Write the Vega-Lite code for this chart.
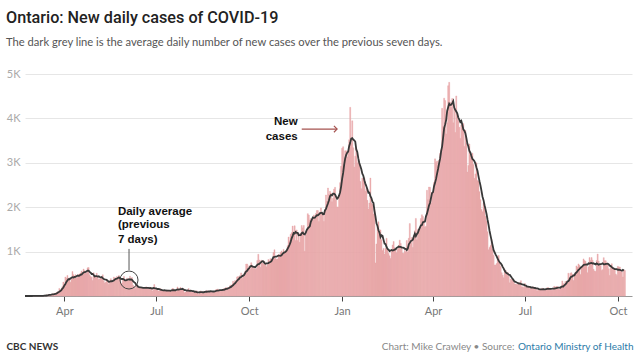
{
"$schema": "https://vega.github.io/schema/vega-lite/v6.json",
"width": 607, "height": 222,
"autosize": {"type": "none"},
"padding": {"left": 25, "top": 74, "right": 8, "bottom": 59},
"background": "#ffffff",
"config": {"view": {"stroke": null}, "axis": {"labelFont": "Lato", "titleFont": "Lato"}},
"title": {"text": "Ontario: New daily cases of COVID-19", "subtitle": "The dark grey line is the average daily number of new cases over the previous seven days.", "anchor": "start", "frame": "group", "dx": -19, "offset": 20, "font": "Roboto", "fontSize": 16.2, "fontWeight": 500, "color": "#222222", "subtitleFont": "Lato", "subtitleFontSize": 11.2, "subtitleColor": "#555555", "subtitlePadding": 11},
"data": {"values": [
{"date":"2020-02-22","cases":0},{"date":"2020-02-23","cases":0},{"date":"2020-02-24","cases":1},{"date":"2020-02-25","cases":0},{"date":"2020-02-26","cases":0},{"date":"2020-02-27","cases":1},{"date":"2020-02-28","cases":0},{"date":"2020-02-29","cases":1},
{"date":"2020-03-01","cases":3},{"date":"2020-03-02","cases":4},{"date":"2020-03-03","cases":1},{"date":"2020-03-04","cases":2},{"date":"2020-03-05","cases":4},{"date":"2020-03-06","cases":5},{"date":"2020-03-07","cases":3},{"date":"2020-03-08","cases":4},{"date":"2020-03-09","cases":4},{"date":"2020-03-10","cases":5},{"date":"2020-03-11","cases":5},{"date":"2020-03-12","cases":17},{"date":"2020-03-13","cases":20},{"date":"2020-03-14","cases":24},{"date":"2020-03-15","cases":28},{"date":"2020-03-16","cases":32},{"date":"2020-03-17","cases":38},{"date":"2020-03-18","cases":24},{"date":"2020-03-19","cases":42},{"date":"2020-03-20","cases":59},{"date":"2020-03-21","cases":48},{"date":"2020-03-22","cases":49},{"date":"2020-03-23","cases":78},{"date":"2020-03-24","cases":85},{"date":"2020-03-25","cases":100},{"date":"2020-03-26","cases":170},{"date":"2020-03-27","cases":135},{"date":"2020-03-28","cases":151},{"date":"2020-03-29","cases":211},{"date":"2020-03-30","cases":313},{"date":"2020-03-31","cases":260},
{"date":"2020-04-01","cases":426},{"date":"2020-04-02","cases":401},{"date":"2020-04-03","cases":462},{"date":"2020-04-04","cases":375},{"date":"2020-04-05","cases":408},{"date":"2020-04-06","cases":309},{"date":"2020-04-07","cases":379},{"date":"2020-04-08","cases":550},{"date":"2020-04-09","cases":478},{"date":"2020-04-10","cases":411},{"date":"2020-04-11","cases":478},{"date":"2020-04-12","cases":401},{"date":"2020-04-13","cases":421},{"date":"2020-04-14","cases":483},{"date":"2020-04-15","cases":494},{"date":"2020-04-16","cases":514},{"date":"2020-04-17","cases":564},{"date":"2020-04-18","cases":478},{"date":"2020-04-19","cases":606},{"date":"2020-04-20","cases":567},{"date":"2020-04-21","cases":551},{"date":"2020-04-22","cases":510},{"date":"2020-04-23","cases":634},{"date":"2020-04-24","cases":640},{"date":"2020-04-25","cases":476},{"date":"2020-04-26","cases":437},{"date":"2020-04-27","cases":424},{"date":"2020-04-28","cases":347},{"date":"2020-04-29","cases":525},{"date":"2020-04-30","cases":459},
{"date":"2020-05-01","cases":421},{"date":"2020-05-02","cases":511},{"date":"2020-05-03","cases":434},{"date":"2020-05-04","cases":370},{"date":"2020-05-05","cases":387},{"date":"2020-05-06","cases":412},{"date":"2020-05-07","cases":399},{"date":"2020-05-08","cases":477},{"date":"2020-05-09","cases":346},{"date":"2020-05-10","cases":294},{"date":"2020-05-11","cases":308},{"date":"2020-05-12","cases":361},{"date":"2020-05-13","cases":329},{"date":"2020-05-14","cases":258},{"date":"2020-05-15","cases":341},{"date":"2020-05-16","cases":391},{"date":"2020-05-17","cases":340},{"date":"2020-05-18","cases":304},{"date":"2020-05-19","cases":427},{"date":"2020-05-20","cases":390},{"date":"2020-05-21","cases":413},{"date":"2020-05-22","cases":441},{"date":"2020-05-23","cases":412},{"date":"2020-05-24","cases":460},{"date":"2020-05-25","cases":404},{"date":"2020-05-26","cases":287},{"date":"2020-05-27","cases":292},{"date":"2020-05-28","cases":383},{"date":"2020-05-29","cases":441},{"date":"2020-05-30","cases":344},{"date":"2020-05-31","cases":326},
{"date":"2020-06-01","cases":404},{"date":"2020-06-02","cases":338},{"date":"2020-06-03","cases":356},{"date":"2020-06-04","cases":446},{"date":"2020-06-05","cases":344},{"date":"2020-06-06","cases":415},{"date":"2020-06-07","cases":243},{"date":"2020-06-08","cases":215},{"date":"2020-06-09","cases":167},{"date":"2020-06-10","cases":251},{"date":"2020-06-11","cases":203},{"date":"2020-06-12","cases":182},{"date":"2020-06-13","cases":182},{"date":"2020-06-14","cases":184},{"date":"2020-06-15","cases":178},{"date":"2020-06-16","cases":190},{"date":"2020-06-17","cases":184},{"date":"2020-06-18","cases":173},{"date":"2020-06-19","cases":178},{"date":"2020-06-20","cases":206},{"date":"2020-06-21","cases":180},{"date":"2020-06-22","cases":161},{"date":"2020-06-23","cases":197},{"date":"2020-06-24","cases":163},{"date":"2020-06-25","cases":189},{"date":"2020-06-26","cases":111},{"date":"2020-06-27","cases":181},{"date":"2020-06-28","cases":257},{"date":"2020-06-29","cases":138},{"date":"2020-06-30","cases":157},
{"date":"2020-07-01","cases":153},{"date":"2020-07-02","cases":111},{"date":"2020-07-03","cases":121},{"date":"2020-07-04","cases":165},{"date":"2020-07-05","cases":154},{"date":"2020-07-06","cases":118},{"date":"2020-07-07","cases":112},{"date":"2020-07-08","cases":118},{"date":"2020-07-09","cases":118},{"date":"2020-07-10","cases":116},{"date":"2020-07-11","cases":129},{"date":"2020-07-12","cases":130},{"date":"2020-07-13","cases":116},{"date":"2020-07-14","cases":111},{"date":"2020-07-15","cases":102},{"date":"2020-07-16","cases":170},{"date":"2020-07-17","cases":164},{"date":"2020-07-18","cases":111},{"date":"2020-07-19","cases":135},{"date":"2020-07-20","cases":103},{"date":"2020-07-21","cases":203},{"date":"2020-07-22","cases":165},{"date":"2020-07-23","cases":135},{"date":"2020-07-24","cases":195},{"date":"2020-07-25","cases":138},{"date":"2020-07-26","cases":137},{"date":"2020-07-27","cases":164},{"date":"2020-07-28","cases":76},{"date":"2020-07-29","cases":89},{"date":"2020-07-30","cases":134},{"date":"2020-07-31","cases":104},
{"date":"2020-08-01","cases":169},{"date":"2020-08-02","cases":117},{"date":"2020-08-03","cases":129},{"date":"2020-08-04","cases":82},{"date":"2020-08-05","cases":86},{"date":"2020-08-06","cases":95},{"date":"2020-08-07","cases":88},{"date":"2020-08-08","cases":70},{"date":"2020-08-09","cases":120},{"date":"2020-08-10","cases":78},{"date":"2020-08-11","cases":33},{"date":"2020-08-12","cases":90},{"date":"2020-08-13","cases":115},{"date":"2020-08-14","cases":91},{"date":"2020-08-15","cases":79},{"date":"2020-08-16","cases":105},{"date":"2020-08-17","cases":63},{"date":"2020-08-18","cases":102},{"date":"2020-08-19","cases":125},{"date":"2020-08-20","cases":105},{"date":"2020-08-21","cases":111},{"date":"2020-08-22","cases":98},{"date":"2020-08-23","cases":107},{"date":"2020-08-24","cases":104},{"date":"2020-08-25","cases":84},{"date":"2020-08-26","cases":101},{"date":"2020-08-27","cases":106},{"date":"2020-08-28","cases":139},{"date":"2020-08-29","cases":148},{"date":"2020-08-30","cases":158},{"date":"2020-08-31","cases":114},
{"date":"2020-09-01","cases":112},{"date":"2020-09-02","cases":133},{"date":"2020-09-03","cases":132},{"date":"2020-09-04","cases":148},{"date":"2020-09-05","cases":169},{"date":"2020-09-06","cases":158},{"date":"2020-09-07","cases":190},{"date":"2020-09-08","cases":185},{"date":"2020-09-09","cases":149},{"date":"2020-09-10","cases":190},{"date":"2020-09-11","cases":230},{"date":"2020-09-12","cases":250},{"date":"2020-09-13","cases":240},{"date":"2020-09-14","cases":330},{"date":"2020-09-15","cases":290},{"date":"2020-09-16","cases":350},{"date":"2020-09-17","cases":320},{"date":"2020-09-18","cases":430},{"date":"2020-09-19","cases":440},{"date":"2020-09-20","cases":420},{"date":"2020-09-21","cases":460},{"date":"2020-09-22","cases":520},{"date":"2020-09-23","cases":400},{"date":"2020-09-24","cases":470},{"date":"2020-09-25","cases":500},{"date":"2020-09-26","cases":560},{"date":"2020-09-27","cases":720},{"date":"2020-09-28","cases":720},{"date":"2020-09-29","cases":600},{"date":"2020-09-30","cases":680},
{"date":"2020-10-01","cases":600},{"date":"2020-10-02","cases":750},{"date":"2020-10-03","cases":690},{"date":"2020-10-04","cases":620},{"date":"2020-10-05","cases":650},{"date":"2020-10-06","cases":600},{"date":"2020-10-07","cases":620},{"date":"2020-10-08","cases":800},{"date":"2020-10-09","cases":939},{"date":"2020-10-10","cases":809},{"date":"2020-10-11","cases":649},{"date":"2020-10-12","cases":807},{"date":"2020-10-13","cases":746},{"date":"2020-10-14","cases":721},{"date":"2020-10-15","cases":783},{"date":"2020-10-16","cases":712},{"date":"2020-10-17","cases":658},{"date":"2020-10-18","cases":704},{"date":"2020-10-19","cases":821},{"date":"2020-10-20","cases":790},{"date":"2020-10-21","cases":841},{"date":"2020-10-22","cases":826},{"date":"2020-10-23","cases":841},{"date":"2020-10-24","cases":978},{"date":"2020-10-25","cases":1042},{"date":"2020-10-26","cases":851},{"date":"2020-10-27","cases":827},{"date":"2020-10-28","cases":834},{"date":"2020-10-29","cases":934},{"date":"2020-10-30","cases":896},{"date":"2020-10-31","cases":977},
{"date":"2020-11-01","cases":1015},{"date":"2020-11-02","cases":948},{"date":"2020-11-03","cases":1050},{"date":"2020-11-04","cases":987},{"date":"2020-11-05","cases":998},{"date":"2020-11-06","cases":1003},{"date":"2020-11-07","cases":1132},{"date":"2020-11-08","cases":1328},{"date":"2020-11-09","cases":1242},{"date":"2020-11-10","cases":1388},{"date":"2020-11-11","cases":1426},{"date":"2020-11-12","cases":1575},{"date":"2020-11-13","cases":1396},{"date":"2020-11-14","cases":1581},{"date":"2020-11-15","cases":1248},{"date":"2020-11-16","cases":1487},{"date":"2020-11-17","cases":1249},{"date":"2020-11-18","cases":1417},{"date":"2020-11-19","cases":1210},{"date":"2020-11-20","cases":1418},{"date":"2020-11-21","cases":1588},{"date":"2020-11-22","cases":1534},{"date":"2020-11-23","cases":1589},{"date":"2020-11-24","cases":1009},{"date":"2020-11-25","cases":1373},{"date":"2020-11-26","cases":1478},{"date":"2020-11-27","cases":1855},{"date":"2020-11-28","cases":1822},{"date":"2020-11-29","cases":1708},{"date":"2020-11-30","cases":1746},
{"date":"2020-12-01","cases":1707},{"date":"2020-12-02","cases":1723},{"date":"2020-12-03","cases":1824},{"date":"2020-12-04","cases":1780},{"date":"2020-12-05","cases":1859},{"date":"2020-12-06","cases":1924},{"date":"2020-12-07","cases":1925},{"date":"2020-12-08","cases":1676},{"date":"2020-12-09","cases":1890},{"date":"2020-12-10","cases":1983},{"date":"2020-12-11","cases":1848},{"date":"2020-12-12","cases":1873},{"date":"2020-12-13","cases":1677},{"date":"2020-12-14","cases":1940},{"date":"2020-12-15","cases":2275},{"date":"2020-12-16","cases":2139},{"date":"2020-12-17","cases":2432},{"date":"2020-12-18","cases":2290},{"date":"2020-12-19","cases":2357},{"date":"2020-12-20","cases":2316},{"date":"2020-12-21","cases":2123},{"date":"2020-12-22","cases":2202},{"date":"2020-12-23","cases":2408},{"date":"2020-12-24","cases":2447},{"date":"2020-12-25","cases":2159},{"date":"2020-12-26","cases":2005},{"date":"2020-12-27","cases":2005},{"date":"2020-12-28","cases":2275},{"date":"2020-12-29","cases":2553},{"date":"2020-12-30","cases":2923},{"date":"2020-12-31","cases":3328},
{"date":"2021-01-01","cases":3363},{"date":"2021-01-02","cases":2964},{"date":"2021-01-03","cases":3270},{"date":"2021-01-04","cases":3270},{"date":"2021-01-05","cases":3128},{"date":"2021-01-06","cases":3266},{"date":"2021-01-07","cases":3519},{"date":"2021-01-08","cases":4249},{"date":"2021-01-09","cases":3443},{"date":"2021-01-10","cases":3945},{"date":"2021-01-11","cases":3338},{"date":"2021-01-12","cases":2903},{"date":"2021-01-13","cases":3149},{"date":"2021-01-14","cases":3326},{"date":"2021-01-15","cases":2998},{"date":"2021-01-16","cases":3056},{"date":"2021-01-17","cases":2964},{"date":"2021-01-18","cases":2578},{"date":"2021-01-19","cases":2417},{"date":"2021-01-20","cases":2655},{"date":"2021-01-21","cases":2632},{"date":"2021-01-22","cases":2662},{"date":"2021-01-23","cases":2359},{"date":"2021-01-24","cases":2417},{"date":"2021-01-25","cases":2154},{"date":"2021-01-26","cases":1958},{"date":"2021-01-27","cases":2093},{"date":"2021-01-28","cases":2655},{"date":"2021-01-29","cases":2093},{"date":"2021-01-30","cases":2063},{"date":"2021-01-31","cases":1848},
{"date":"2021-02-01","cases":1969},{"date":"2021-02-02","cases":745},{"date":"2021-02-03","cases":1172},{"date":"2021-02-04","cases":1563},{"date":"2021-02-05","cases":1670},{"date":"2021-02-06","cases":1388},{"date":"2021-02-07","cases":1489},{"date":"2021-02-08","cases":1265},{"date":"2021-02-09","cases":1022},{"date":"2021-02-10","cases":1072},{"date":"2021-02-11","cases":945},{"date":"2021-02-12","cases":1076},{"date":"2021-02-13","cases":1300},{"date":"2021-02-14","cases":1041},{"date":"2021-02-15","cases":964},{"date":"2021-02-16","cases":904},{"date":"2021-02-17","cases":847},{"date":"2021-02-18","cases":1038},{"date":"2021-02-19","cases":1150},{"date":"2021-02-20","cases":1228},{"date":"2021-02-21","cases":1087},{"date":"2021-02-22","cases":1058},{"date":"2021-02-23","cases":975},{"date":"2021-02-24","cases":1054},{"date":"2021-02-25","cases":1138},{"date":"2021-02-26","cases":1258},{"date":"2021-02-27","cases":1185},{"date":"2021-02-28","cases":1062},
{"date":"2021-03-01","cases":966},{"date":"2021-03-02","cases":958},{"date":"2021-03-03","cases":1023},{"date":"2021-03-04","cases":994},{"date":"2021-03-05","cases":1250},{"date":"2021-03-06","cases":990},{"date":"2021-03-07","cases":1299},{"date":"2021-03-08","cases":1631},{"date":"2021-03-09","cases":1185},{"date":"2021-03-10","cases":1316},{"date":"2021-03-11","cases":1092},{"date":"2021-03-12","cases":1371},{"date":"2021-03-13","cases":1468},{"date":"2021-03-14","cases":1747},{"date":"2021-03-15","cases":1268},{"date":"2021-03-16","cases":1500},{"date":"2021-03-17","cases":1508},{"date":"2021-03-18","cases":1553},{"date":"2021-03-19","cases":1745},{"date":"2021-03-20","cases":1829},{"date":"2021-03-21","cases":1791},{"date":"2021-03-22","cases":1699},{"date":"2021-03-23","cases":1546},{"date":"2021-03-24","cases":1571},{"date":"2021-03-25","cases":2380},{"date":"2021-03-26","cases":2169},{"date":"2021-03-27","cases":2453},{"date":"2021-03-28","cases":2448},{"date":"2021-03-29","cases":2094},{"date":"2021-03-30","cases":2336},{"date":"2021-03-31","cases":2333},
{"date":"2021-04-01","cases":2557},{"date":"2021-04-02","cases":3089},{"date":"2021-04-03","cases":3009},{"date":"2021-04-04","cases":3041},{"date":"2021-04-05","cases":2938},{"date":"2021-04-06","cases":3065},{"date":"2021-04-07","cases":3215},{"date":"2021-04-08","cases":3295},{"date":"2021-04-09","cases":4227},{"date":"2021-04-10","cases":3813},{"date":"2021-04-11","cases":4456},{"date":"2021-04-12","cases":4401},{"date":"2021-04-13","cases":3650},{"date":"2021-04-14","cases":3900},{"date":"2021-04-15","cases":4736},{"date":"2021-04-16","cases":4812},{"date":"2021-04-17","cases":4362},{"date":"2021-04-18","cases":4250},{"date":"2021-04-19","cases":4447},{"date":"2021-04-20","cases":3900},{"date":"2021-04-21","cases":4212},{"date":"2021-04-22","cases":3682},{"date":"2021-04-23","cases":4505},{"date":"2021-04-24","cases":4094},{"date":"2021-04-25","cases":3947},{"date":"2021-04-26","cases":3800},{"date":"2021-04-27","cases":3550},{"date":"2021-04-28","cases":3850},{"date":"2021-04-29","cases":3871},{"date":"2021-04-30","cases":3887},
{"date":"2021-05-01","cases":3369},{"date":"2021-05-02","cases":3732},{"date":"2021-05-03","cases":3436},{"date":"2021-05-04","cases":2791},{"date":"2021-05-05","cases":2941},{"date":"2021-05-06","cases":3424},{"date":"2021-05-07","cases":3166},{"date":"2021-05-08","cases":3100},{"date":"2021-05-09","cases":3216},{"date":"2021-05-10","cases":2960},{"date":"2021-05-11","cases":2650},{"date":"2021-05-12","cases":2750},{"date":"2021-05-13","cases":3000},{"date":"2021-05-14","cases":2600},{"date":"2021-05-15","cases":2584},{"date":"2021-05-16","cases":2350},{"date":"2021-05-17","cases":2170},{"date":"2021-05-18","cases":1950},{"date":"2021-05-19","cases":1900},{"date":"2021-05-20","cases":2100},{"date":"2021-05-21","cases":2050},{"date":"2021-05-22","cases":1794},{"date":"2021-05-23","cases":1691},{"date":"2021-05-24","cases":1446},{"date":"2021-05-25","cases":1039},{"date":"2021-05-26","cases":1095},{"date":"2021-05-27","cases":1135},{"date":"2021-05-28","cases":1273},{"date":"2021-05-29","cases":1057},{"date":"2021-05-30","cases":916},{"date":"2021-05-31","cases":699},
{"date":"2021-06-01","cases":699},{"date":"2021-06-02","cases":733},{"date":"2021-06-03","cases":870},{"date":"2021-06-04","cases":914},{"date":"2021-06-05","cases":744},{"date":"2021-06-06","cases":663},{"date":"2021-06-07","cases":525},{"date":"2021-06-08","cases":469},{"date":"2021-06-09","cases":411},{"date":"2021-06-10","cases":590},{"date":"2021-06-11","cases":574},{"date":"2021-06-12","cases":502},{"date":"2021-06-13","cases":530},{"date":"2021-06-14","cases":447},{"date":"2021-06-15","cases":296},{"date":"2021-06-16","cases":384},{"date":"2021-06-17","cases":370},{"date":"2021-06-18","cases":345},{"date":"2021-06-19","cases":318},{"date":"2021-06-20","cases":270},{"date":"2021-06-21","cases":270},{"date":"2021-06-22","cases":255},{"date":"2021-06-23","cases":296},{"date":"2021-06-24","cases":296},{"date":"2021-06-25","cases":256},{"date":"2021-06-26","cases":346},{"date":"2021-06-27","cases":200},{"date":"2021-06-28","cases":210},{"date":"2021-06-29","cases":184},{"date":"2021-06-30","cases":284},
{"date":"2021-07-01","cases":200},{"date":"2021-07-02","cases":209},{"date":"2021-07-03","cases":209},{"date":"2021-07-04","cases":194},{"date":"2021-07-05","cases":170},{"date":"2021-07-06","cases":164},{"date":"2021-07-07","cases":194},{"date":"2021-07-08","cases":210},{"date":"2021-07-09","cases":179},{"date":"2021-07-10","cases":179},{"date":"2021-07-11","cases":166},{"date":"2021-07-12","cases":114},{"date":"2021-07-13","cases":146},{"date":"2021-07-14","cases":153},{"date":"2021-07-15","cases":143},{"date":"2021-07-16","cases":159},{"date":"2021-07-17","cases":176},{"date":"2021-07-18","cases":166},{"date":"2021-07-19","cases":130},{"date":"2021-07-20","cases":135},{"date":"2021-07-21","cases":151},{"date":"2021-07-22","cases":185},{"date":"2021-07-23","cases":192},{"date":"2021-07-24","cases":170},{"date":"2021-07-25","cases":170},{"date":"2021-07-26","cases":129},{"date":"2021-07-27","cases":127},{"date":"2021-07-28","cases":172},{"date":"2021-07-29","cases":218},{"date":"2021-07-30","cases":187},{"date":"2021-07-31","cases":213},
{"date":"2021-08-01","cases":213},{"date":"2021-08-02","cases":164},{"date":"2021-08-03","cases":143},{"date":"2021-08-04","cases":167},{"date":"2021-08-05","cases":213},{"date":"2021-08-06","cases":340},{"date":"2021-08-07","cases":278},{"date":"2021-08-08","cases":195},{"date":"2021-08-09","cases":325},{"date":"2021-08-10","cases":321},{"date":"2021-08-11","cases":324},{"date":"2021-08-12","cases":513},{"date":"2021-08-13","cases":378},{"date":"2021-08-14","cases":513},{"date":"2021-08-15","cases":525},{"date":"2021-08-16","cases":485},{"date":"2021-08-17","cases":348},{"date":"2021-08-18","cases":485},{"date":"2021-08-19","cases":531},{"date":"2021-08-20","cases":678},{"date":"2021-08-21","cases":650},{"date":"2021-08-22","cases":722},{"date":"2021-08-23","cases":694},{"date":"2021-08-24","cases":486},{"date":"2021-08-25","cases":660},{"date":"2021-08-26","cases":678},{"date":"2021-08-27","cases":835},{"date":"2021-08-28","cases":800},{"date":"2021-08-29","cases":780},{"date":"2021-08-30","cases":694},{"date":"2021-08-31","cases":525},
{"date":"2021-09-01","cases":656},{"date":"2021-09-02","cases":865},{"date":"2021-09-03","cases":800},{"date":"2021-09-04","cases":865},{"date":"2021-09-05","cases":807},{"date":"2021-09-06","cases":601},{"date":"2021-09-07","cases":564},{"date":"2021-09-08","cases":554},{"date":"2021-09-09","cases":798},{"date":"2021-09-10","cases":944},{"date":"2021-09-11","cases":787},{"date":"2021-09-12","cases":691},{"date":"2021-09-13","cases":689},{"date":"2021-09-14","cases":577},{"date":"2021-09-15","cases":593},{"date":"2021-09-16","cases":864},{"date":"2021-09-17","cases":795},{"date":"2021-09-18","cases":795},{"date":"2021-09-19","cases":749},{"date":"2021-09-20","cases":692},{"date":"2021-09-21","cases":612},{"date":"2021-09-22","cases":463},{"date":"2021-09-23","cases":677},{"date":"2021-09-24","cases":727},{"date":"2021-09-25","cases":640},{"date":"2021-09-26","cases":612},{"date":"2021-09-27","cases":613},{"date":"2021-09-28","cases":495},{"date":"2021-09-29","cases":463},{"date":"2021-09-30","cases":668},
{"date":"2021-10-01","cases":654},{"date":"2021-10-02","cases":653},{"date":"2021-10-03","cases":580},{"date":"2021-10-04","cases":540},{"date":"2021-10-05","cases":429},{"date":"2021-10-06","cases":587},{"date":"2021-10-07","cases":573}
]},
"layer": [
{
"mark": {"type": "bar", "color": "#e8a7a8", "stroke": "#e8a7a8", "strokeWidth": 0.4, "binSpacing": 0},
"encoding": {
"x": {"field": "date", "type": "temporal", "timeUnit": "utcyearmonthdate",
"scale": {"domain": [{"year": 2020, "month": 2, "date": 22, "utc": true}, {"year": 2021, "month": 10, "date": 15, "utc": true}]},
"axis": {"values": [{"year": 2020, "month": 4, "date": 1, "utc": true}, {"year": 2020, "month": 7, "date": 1, "utc": true}, {"year": 2020, "month": 10, "date": 1, "utc": true}, {"year": 2021, "month": 1, "date": 1, "utc": true}, {"year": 2021, "month": 4, "date": 1, "utc": true}, {"year": 2021, "month": 7, "date": 1, "utc": true}, {"year": 2021, "month": 10, "date": 1, "utc": true}],
"labelExpr": "utcFormat(datum.value, '%b')", "grid": false, "domainColor": "#999999", "tickColor": "#444444", "tickSize": 5, "labelColor": "#777777", "labelFontSize": 11, "labelPadding": 4,
"title": "CBC NEWS", "titleX": -19, "titleY": 53, "titleAlign": "left", "titleAnchor": null, "titleBaseline": "alphabetic", "titleColor": "#333333", "titleFontSize": 10, "titleFontWeight": "bold"}},
"y": {"field": "cases", "type": "quantitative", "scale": {"domain": [0, 5000]},
"axis": {"values": [1000, 2000, 3000, 4000, 5000], "labelExpr": "datum.value / 1000 + 'K'", "grid": true, "gridColor": "#e6e6e6", "domain": false, "ticks": false, "labelPadding": 5, "labelColor": "#aaaaaa", "labelFontSize": 11,
"title": "Chart: Mike Crawley • Source:", "titleAngle": 0, "titleX": 489, "titleY": 275, "titleAlign": "right", "titleAnchor": null, "titleBaseline": "alphabetic", "titleColor": "#888888", "titleFontSize": 10, "titleFontWeight": "normal"}}
}
},
{
"transform": [{"window": [{"op": "mean", "field": "cases", "as": "avg"}], "frame": [-6, 0], "sort": [{"field": "date", "order": "ascending"}]}],
"mark": {"type": "line", "color": "#383838", "strokeWidth": 1.8},
"encoding": {
"x": {"field": "date", "type": "temporal", "timeUnit": "utcyearmonthdate"},
"y": {"field": "avg", "type": "quantitative",
"axis": {"orient": "right", "labels": false, "ticks": false, "domain": false, "grid": false,
"title": "Ontario Ministry of Health", "titleAngle": 0, "titleX": 1, "titleY": 275, "titleAlign": "right", "titleAnchor": null, "titleBaseline": "alphabetic", "titleColor": "#2b7ba8", "titleFontSize": 10, "titleFontWeight": "normal"}}
}
},
{
"data": {"values": [{"date": "2020-11-22", "date2": "2020-12-27", "value": 3760}]},
"mark": {"type": "rule", "color": "#a5524f", "strokeWidth": 1.2},
"encoding": {
"x": {"field": "date", "type": "temporal", "timeUnit": "utcyearmonthdate"},
"x2": {"field": "date2", "timeUnit": "utcyearmonthdate"},
"y": {"field": "value", "type": "quantitative", "axis": null}
}
},
{
"data": {"values": [{"date": "2020-12-27", "value": 3760}]},
"mark": {"type": "point", "shape": "M-1,-1L0,0L-1,1", "filled": false, "stroke": "#a5524f", "strokeWidth": 1.2, "size": 40, "opacity": 1},
"encoding": {
"x": {"field": "date", "type": "temporal", "timeUnit": "utcyearmonthdate"},
"y": {"field": "value", "type": "quantitative", "axis": null}
}
},
{
"data": {"values": [{"date": "2020-06-04", "from": 1060, "to": 585}]},
"mark": {"type": "rule", "color": "#555555", "strokeWidth": 1},
"encoding": {
"x": {"field": "date", "type": "temporal", "timeUnit": "utcyearmonthdate"},
"y": {"field": "from", "type": "quantitative", "axis": null},
"y2": {"field": "to"}
}
},
{
"data": {"values": [{"date": "2020-06-04", "value": 360}]},
"mark": {"type": "point", "shape": "circle", "filled": false, "stroke": "#444444", "strokeWidth": 1, "size": 324, "opacity": 1},
"encoding": {
"x": {"field": "date", "type": "temporal", "timeUnit": "utcyearmonthdate"},
"y": {"field": "value", "type": "quantitative", "axis": null}
}
},
{
"data": {"values": [{"date": "2020-11-18", "value": 3908, "label": "New"}, {"date": "2020-11-18", "value": 3581, "label": "cases"}]},
"mark": {"type": "text", "align": "right", "baseline": "middle", "font": "Liberation Sans", "fontWeight": "bold", "fontSize": 11.5, "color": "#111111"},
"encoding": {
"x": {"field": "date", "type": "temporal", "timeUnit": "utcyearmonthdate"},
"y": {"field": "value", "type": "quantitative", "axis": null},
"text": {"field": "label"}
}
},
{
"data": {"values": [{"date": "2020-05-24", "value": 1900, "label": "Daily average"}, {"date": "2020-05-24", "value": 1590, "label": "(previous"}, {"date": "2020-05-24", "value": 1270, "label": "7 days)"}]},
"mark": {"type": "text", "align": "left", "baseline": "middle", "font": "Liberation Sans", "fontWeight": "bold", "fontSize": 11.5, "color": "#111111"},
"encoding": {
"x": {"field": "date", "type": "temporal", "timeUnit": "utcyearmonthdate"},
"y": {"field": "value", "type": "quantitative", "axis": null},
"text": {"field": "label"}
}
}
],
"resolve": {"axis": {"y": "independent"}}
}
